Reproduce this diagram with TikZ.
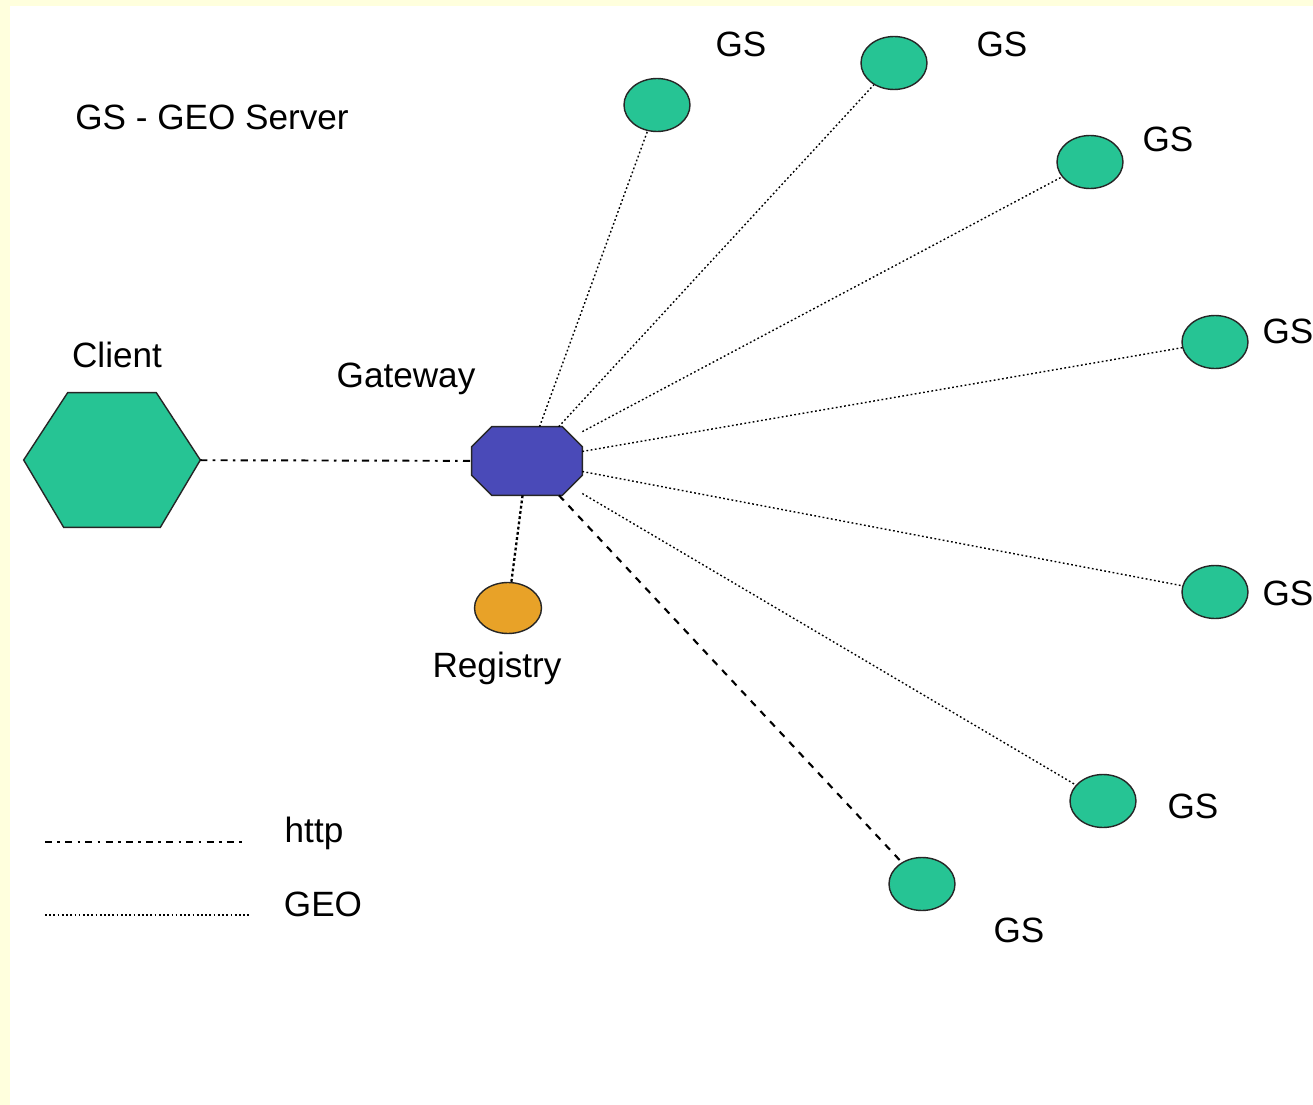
\documentclass[tikz,border=0pt]{standalone}
\usepackage{fontspec}
\setmainfont{Liberation Sans}
\usepackage{tikz}
\usetikzlibrary{shapes.geometric,positioning}
\usepackage{xcolor}
\definecolor{bgyellow}{RGB}{255,255,221}
\definecolor{gsgreen}{RGB}{38,196,148}
\definecolor{gwblue}{RGB}{74,74,184}
\definecolor{regorange}{RGB}{232,162,40}

\begin{document}
\begin{tikzpicture}[
        x=0.02cm, y=-0.02cm,
        lbl/.style={font=\fontsize{20}{24}\selectfont, inner sep=0, anchor=base},
        outline/.style={draw=black!85, line width=0.8pt},
        server/.style={ellipse, outline, fill=gsgreen, inner sep=0, minimum width=1.32cm, minimum height=1.06cm},
        http/.style={line width=1.1pt, dash pattern=on 4pt off 3pt on 1.5pt off 3pt},
        geo/.style={line width=0.8pt, dash pattern=on 1pt off 1.4pt},
        reglink/.style={line width=1.3pt, dash pattern=on 1.6pt off 1.4pt},
        gslink/.style={line width=1.2pt, dash pattern=on 4pt off 4pt}
    ]
    \useasboundingbox (0,0) rectangle (1313,1105);
    \fill[bgyellow] (0,0) rectangle (1313,1105);
    \fill[white] (10,6) rectangle (1313,1105);

    \node (legend) [lbl] at (212,130) {GS - GEO Server};

    % hexagon and octagon are drawn round plain boxes
    \node (client) [minimum width=3.52cm, minimum height=2.68cm, inner sep=0] at (112,460) {};
    \filldraw[outline, fill=gsgreen] (client.west) -- ([xshift=0.88cm]client.north west)
        -- ([xshift=-0.88cm]client.north east) -- (client.east)
        -- ([xshift=-0.8cm]client.south east) -- ([xshift=0.8cm]client.south west) -- cycle;
    \node (gateway) [minimum width=2.2cm, minimum height=1.36cm, inner sep=0] at (527,461) {};
    \filldraw[outline, fill=gwblue] ([yshift=-0.4cm]gateway.north west) -- ([xshift=0.4cm]gateway.north west)
        -- ([xshift=-0.4cm]gateway.north east) -- ([yshift=-0.4cm]gateway.north east)
        -- ([yshift=0.4cm]gateway.south east) -- ([xshift=-0.4cm]gateway.south east)
        -- ([xshift=0.4cm]gateway.south west) -- ([yshift=0.4cm]gateway.south west) -- cycle;
    \node (registry) [ellipse, outline, fill=regorange, inner sep=0,
        minimum width=1.34cm, minimum height=1.02cm] at (508,608) {};

    \node (clientlbl) [lbl] at (117,367) {Client};
    \node (gatewaylbl) [lbl] at (406,387) {Gateway};
    \node (registrylbl) [lbl] at (497,677) {Registry};

    \node (gs1) [server] at (657,105) {};
    \node (gs2) [server] at (894,63) {};
    \node (gs3) [server] at (1090,162) {};
    \node (gs4) [server] at (1215,342) {};
    \node (gs5) [server] at (1215,592) {};
    \node (gs6) [server] at (1103,801) {};
    \node (gs7) [server] at (922,884) {};

    \node (gs1lbl) [lbl] at (741,57) {GS};
    \node (gs2lbl) [lbl] at (1002,57) {GS};
    \node (gs3lbl) [lbl] at (1168,152) {GS};
    \node (gs4lbl) [lbl] at (1288,343) {GS};
    \node (gs5lbl) [lbl] at (1288,605) {GS};
    \node (gs6lbl) [lbl] at (1193,818) {GS};
    \node (gs7lbl) [lbl] at (1019,942) {GS};

    \draw[http] (client) -- (gateway);
    \draw[reglink] (gateway) -- (registry);
    \draw[gslink] (gateway) -- (gs7);
    \draw[geo] (gateway) -- (gs1);
    \draw[geo] (gateway) -- (gs2);
    \draw[geo] (gateway) -- (gs3);
    \draw[geo] (gateway) -- (gs4);
    \draw[geo] (gateway) -- (gs5);
    \draw[geo] (gateway) -- (gs6);

    % key
    \coordinate (httpa) at (45,842);
    \coordinate (httpb) at (247,842);
    \coordinate (geoa) at (45,915);
    \coordinate (geob) at (250,915);
    \draw[http] (httpa) -- (httpb);
    \draw[geo] (geoa) -- (geob);
    \node (httplbl) [lbl] at (314,842) {http};
    \node (geolbl) [lbl] at (323,916) {GEO};
\end{tikzpicture}
\end{document}
